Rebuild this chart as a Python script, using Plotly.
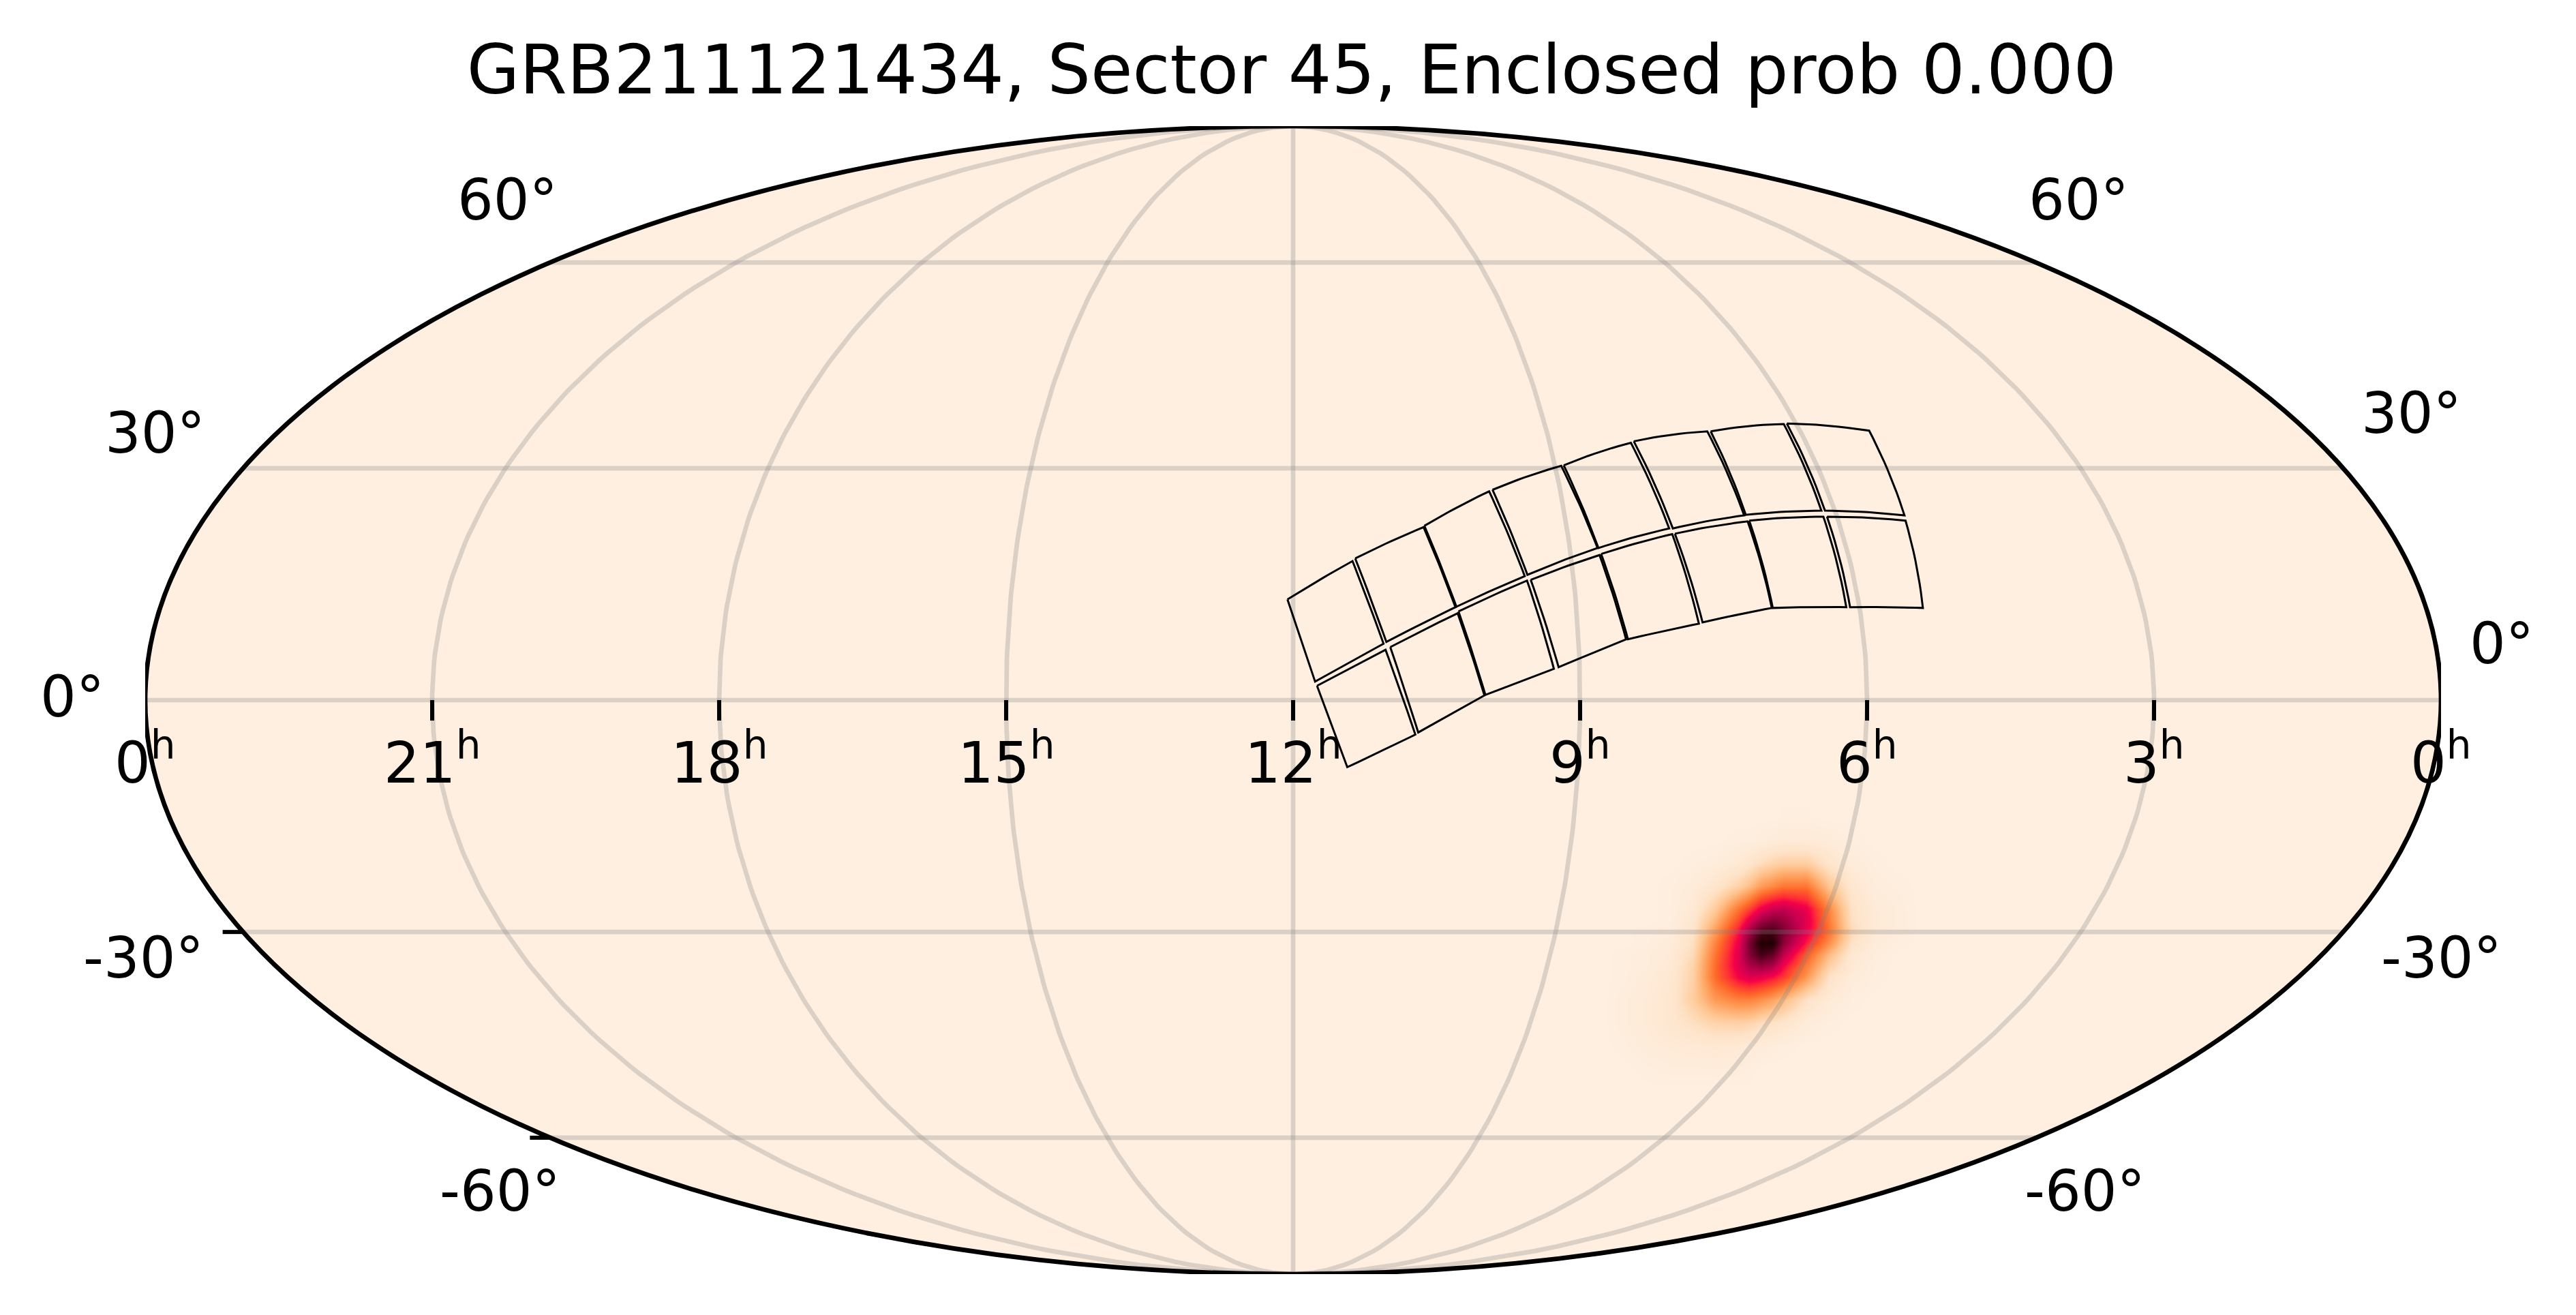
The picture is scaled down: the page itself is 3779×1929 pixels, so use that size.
import numpy as np
import plotly.graph_objects as go

# CCD corners: RA in hours, Dec in degrees
ccd_ra = [
    [12.06, 11.36, 11.05, 11.77],
    [11.33, 10.57, 10.28, 11.02],
    [10.56, 9.80, 9.52, 10.27],
    [9.76, 8.93, 8.70, 9.49],
    [8.90, 8.05, 7.88, 8.69],
    [8.01, 7.10, 7.02, 7.84],
    [7.06, 6.15, 6.15, 7.00],
    [6.11, 5.18, 5.25, 6.11],
    [11.75, 11.03, 10.72, 11.43],
    [10.98, 10.26, 10.00, 10.69],
    [10.25, 9.50, 9.27, 9.99],
    [9.46, 8.69, 8.50, 9.22],
    [8.67, 7.86, 7.72, 8.48],
    [7.83, 7.00, 6.93, 7.68],
    [6.98, 6.15, 6.14, 6.92],
    [6.11, 5.26, 5.33, 6.10],
]
ccd_dec = [
    [12.84, 17.78, 7.17, 2.35],
    [18.12, 22.20, 11.84, 7.40],
    [22.37, 26.91, 15.83, 11.90],
    [27.12, 30.32, 19.48, 16.00],
    [30.39, 33.43, 22.03, 19.48],
    [33.64, 35.00, 23.74, 22.03],
    [35.00, 36.00, 24.36, 23.81],
    [36.07, 35.10, 23.74, 24.36],
    [1.82, 6.40, -4.38, -8.53],
    [6.74, 11.07, 0.60, -4.11],
    [11.30, 15.26, 3.98, 0.66],
    [15.36, 18.56, 7.74, 4.18],
    [18.70, 21.28, 9.73, 7.74],
    [21.34, 22.95, 11.74, 9.90],
    [23.05, 23.57, 11.84, 11.74],
    [23.57, 23.05, 11.74, 11.84],
]

blob_x = [0.761, 0.817, 0.873, 0.929, 0.985, 1.041, 1.097, 1.125, 1.153,
          1.181, 1.209, 1.265, 1.321, 1.377, 1.433, 1.489, 1.545]
blob_y = [-0.291, -0.347, -0.403, -0.459, -0.515, -0.543, -0.571, -0.599,
          -0.627, -0.655, -0.683, -0.739, -0.795, -0.851, -0.907, -0.963]
blob_z = [
    [0, 0, 0, 0, 0, 0, 0, 0, 0, 0, .005, .005, 0, 0, 0, 0, 0],
    [0, 0, 0, 0, 0, 0, .01, .01, .02, .03, .04, .04, .03, .01, 0, 0, 0],
    [0, 0, 0, 0, .01, .02, .05, .08, .12, .15, .17, .17, .08, .03, .01, 0, 0],
    [0, 0, 0, .01, .03, .08, .16, .22, .30, .34, .38, .38, .20, .07, .02, .01, 0],
    [0, 0, 0, .01, .05, .18, .38, .47, .58, .64, .66, .58, .34, .10, .04, .02, 0],
    [0, 0, 0, .01, .07, .24, .46, .60, .72, .78, .74, .60, .36, .11, .04, .02, 0],
    [0, 0, .01, .02, .09, .30, .54, .72, .88, .90, .80, .58, .38, .13, .04, .02, 0],
    [0, 0, .01, .03, .11, .35, .58, .80, .98, .98, .76, .52, .32, .10, .03, .01, 0],
    [0, .01, .02, .04, .13, .38, .60, .78, .90, .84, .66, .42, .22, .06, .02, 0, 0],
    [0, .01, .02, .05, .15, .40, .60, .70, .74, .70, .56, .36, .16, .05, .01, 0, 0],
    [0, .01, .03, .06, .16, .40, .56, .60, .58, .54, .48, .30, .10, .03, .01, 0, 0],
    [0, .02, .04, .07, .17, .30, .35, .35, .32, .28, .22, .10, .04, .01, 0, 0, 0],
    [0, .02, .04, .07, .11, .15, .16, .15, .12, .10, .08, .03, .01, 0, 0, 0, 0],
    [0, .01, .03, .04, .05, .06, .05, .04, .03, .02, .01, 0, 0, 0, 0, 0, 0],
    [0, 0, .01, .02, .02, .02, .02, .01, 0, 0, 0, 0, 0, 0, 0, 0, 0],
    [0, 0, 0, 0, 0, 0, 0, 0, 0, 0, 0, 0, 0, 0, 0, 0, 0],
]

ra_ticks = [21, 18, 15, 12, 9, 6, 3]
ra_grid = [21, 18, 15, 12, 9, 6, 3]
dec_grid = [60, 30, 0, -30, -60]
left_dec_ticks = [-30, -60]
ra_labels = ["0", "21", "18", "15", "12", "9", "6", "3", "0"]
dec_labels = ["60°", "30°", "0°", "-30°", "-60°"]

BG = "#FEEFE1"
GRID = "rgba(128,128,128,0.28)"
TITLE = "GRB211121434, Sector 45, Enclosed prob 0.000"

W, H = 3779, 1929
PAGE = 8  # the page body has an 8 px margin
PLOT_L, PLOT_R, PLOT_T, PLOT_B = 213, 3581, 185, 1869
X_MAX = 2 * np.sqrt(2)
Y_MAX = np.sqrt(2)


# Mollweide projection, RA runs right to left with 12h in the middle
def project(ra_hours, dec_deg):
    ra_hours = np.atleast_1d(np.asarray(ra_hours, dtype=float))
    dec_deg = np.atleast_1d(np.asarray(dec_deg, dtype=float))
    lat = np.radians(dec_deg)
    th = lat.copy()
    for _ in range(60):
        d = 2 + 2 * np.cos(2 * th)
        d = np.where(np.abs(d) < 1e-9, 1e-9, d)
        th = th - (2 * th + np.sin(2 * th) - np.pi * np.sin(lat)) / d
    th = np.where(np.abs(dec_deg) >= 90, np.sign(dec_deg) * np.pi / 2, th)
    lon = (12 - ra_hours) / 12 * np.pi
    return X_MAX / np.pi * lon * np.cos(th), Y_MAX * np.sin(th)


# edges of a CCD are great circles on the sky
def great_circle(ra1, dec1, ra2, dec2, n=12):
    a = [np.radians(ra1 * 15), np.radians(dec1)]
    b = [np.radians(ra2 * 15), np.radians(dec2)]
    p = np.array([np.cos(a[1]) * np.cos(a[0]), np.cos(a[1]) * np.sin(a[0]), np.sin(a[1])])
    q = np.array([np.cos(b[1]) * np.cos(b[0]), np.cos(b[1]) * np.sin(b[0]), np.sin(b[1])])
    w = np.arccos(np.clip(p @ q, -1, 1))
    t = np.linspace(0, 1, n)[:, None]
    v = (np.sin((1 - t) * w) * p + np.sin(t * w) * q) / np.sin(w)
    return (np.degrees(np.arctan2(v[:, 1], v[:, 0])) / 15) % 24, np.degrees(np.arcsin(v[:, 2]))


def ccd_outline(ras, decs):
    xs, ys = [], []
    for i in range(4):
        j = (i + 1) % 4
        r, d = great_circle(ras[i], decs[i], ras[j], decs[j])
        x, y = project(r, d)
        xs.extend(x.tolist())
        ys.extend(y.tolist())
    return xs, ys


fig = go.Figure()

fig.add_trace(go.Heatmap(
    x=blob_x, y=blob_y, z=blob_z, zmin=0, zmax=1, zsmooth="best",
    showscale=False, hoverinfo="skip",
    colorscale=[
        [0.0, BG], [0.1, "#FEE3C8"], [0.2, "#FFC590"], [0.3, "#FF9A55"],
        [0.4, "#FF6A2A"], [0.5, "#FF2E35"], [0.56, "#F5004A"], [0.65, "#C80050"],
        [0.8, "#7A0030"], [0.92, "#3A0010"], [1.0, "#1A0000"],
    ],
))

# grid
sweep = np.linspace(-90, 90, 181)
for ra in ra_grid:
    x, y = project(np.full(sweep.shape, ra), sweep)
    fig.add_trace(go.Scatter(x=x, y=y, mode="lines", hoverinfo="skip", showlegend=False,
                             line=dict(color=GRID, width=6.7)))
for dec in dec_grid:
    x, y = project([0.001, 23.999], [dec, dec])
    fig.add_trace(go.Scatter(x=x, y=y, mode="lines", hoverinfo="skip", showlegend=False,
                             line=dict(color=GRID, width=6.7)))

# sector footprint
for ras, decs in zip(ccd_ra, ccd_dec):
    x, y = ccd_outline(ras, decs)
    fig.add_trace(go.Scatter(x=x, y=y, mode="lines", hoverinfo="skip", showlegend=False,
                             line=dict(color="black", width=3)))

# short ticks, 30 px long on the picture
px_per_unit = (PLOT_B - PLOT_T) / (2 * Y_MAX)
tick_len = 30 / px_per_unit
for ra in ra_ticks:
    x0, y0 = project(ra, 0)
    fig.add_trace(go.Scatter(x=[x0[0], x0[0]], y=[y0[0], y0[0] - tick_len], mode="lines",
                             hoverinfo="skip", showlegend=False,
                             line=dict(color="black", width=6)))
for dec in left_dec_ticks:
    x0, y0 = project(23.999, dec)
    fig.add_trace(go.Scatter(x=[x0[0], x0[0] - tick_len], y=[y0[0], y0[0]], mode="lines",
                             hoverinfo="skip", showlegend=False,
                             line=dict(color="black", width=6)))


def paper_x(px):
    return (px - PLOT_L) / (PLOT_R - PLOT_L)


def paper_y(py):
    return (PLOT_B - py) / (PLOT_B - PLOT_T)


annotations = []
ra_label_px = [213, 634, 1055, 1476, 1897, 2318, 2739, 3160, 3581]
for text, px in zip(ra_labels, ra_label_px):
    annotations.append(dict(text=text + "<sup>h</sup>", x=paper_x(px), y=paper_y(1113),
                            xref="paper", yref="paper", showarrow=False,
                            xanchor="center", yanchor="middle"))
dec_left_px = [(744, 293), (227, 636), (106, 1022), (210, 1405), (733, 1747)]
dec_right_px = [(3049, 293), (3537, 607), (3670, 945), (3581, 1405), (3058, 1747)]
for text, a, b in zip(dec_labels, dec_left_px, dec_right_px):
    for px, py in (a, b):
        annotations.append(dict(text=text, x=paper_x(px), y=paper_y(py),
                                xref="paper", yref="paper", showarrow=False,
                                xanchor="center", yanchor="middle"))

fig.update_layout(
    width=W - PAGE,
    height=H - PAGE,
    autosize=False,
    margin=dict(l=PLOT_L - PAGE, r=W - PLOT_R, t=PLOT_T - PAGE, b=H - PLOT_B, pad=0),
    paper_bgcolor="white",
    plot_bgcolor="white",
    showlegend=False,
    font=dict(family="DejaVu Sans", size=83, color="black"),
    title=dict(text=TITLE, font=dict(family="DejaVu Sans", size=100, color="black"),
               xref="container", yref="container", x=(1895 - PAGE) / (W - PAGE),
               y=1 - (102 - PAGE) / (H - PAGE), xanchor="center", yanchor="middle"),
    xaxis=dict(range=[-X_MAX, X_MAX], visible=False, fixedrange=True),
    yaxis=dict(range=[-Y_MAX, Y_MAX], visible=False, fixedrange=True),
    annotations=annotations,
    shapes=[
        dict(type="circle", xref="x", yref="y", x0=-X_MAX, x1=X_MAX, y0=-Y_MAX, y1=Y_MAX,
             fillcolor=BG, line=dict(width=0), layer="below"),
        dict(type="circle", xref="x", yref="y", x0=-X_MAX, x1=X_MAX, y0=-Y_MAX, y1=Y_MAX,
             fillcolor="rgba(0,0,0,0)", line=dict(color="black", width=6.7), layer="above"),
    ],
)

fig.write_html("out.html")
